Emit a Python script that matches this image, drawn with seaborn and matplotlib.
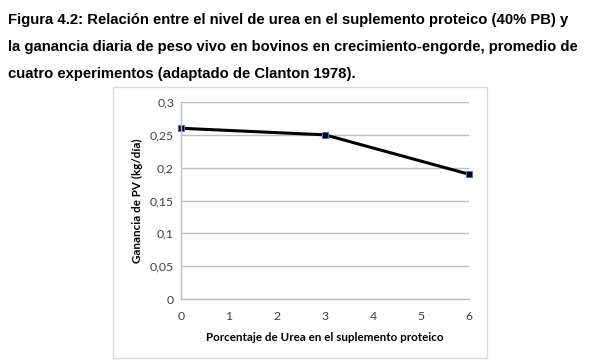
import pandas as pd
import matplotlib.pyplot as plt
import seaborn as sns
from matplotlib.patches import Rectangle

# Data
urea_pct = [0, 3, 6]
ganancia = [0.26, 0.25, 0.19]
y_ticks = [0, 0.05, 0.1, 0.15, 0.2, 0.25, 0.3]
y_labels = ['0', '0,05', '0,1', '0,15', '0,2', '0,25', '0,3']
x_ticks = [0, 1, 2, 3, 4, 5, 6]

df = pd.DataFrame({'urea': urea_pct, 'ganancia': ganancia})

sns.set_style('white')
plt.rcParams['font.family'] = ['Lato', 'DejaVu Sans']

fig = plt.figure(figsize=(6, 3.63), dpi=100)

# Caption above the chart
title_lines = [
    'Figura 4.2: Relación entre el nivel de urea en el suplemento proteico (40% PB) y',
    'la ganancia diaria de peso vivo en bovinos en crecimiento-engorde, promedio de',
    'cuatro experimentos (adaptado de Clanton 1978).',
]
for i, line in enumerate(title_lines):
    fig.text(0.013, 1 - (20 + 27 * i) / 363, line, fontsize=10.7, fontweight='bold',
             family=['Liberation Sans', 'DejaVu Sans'],
             va='center', ha='left', color='black')

# Chart frame
fig.patches.append(Rectangle((113 / 600, 1 - 358 / 363), 374 / 600, 271 / 363,
                             transform=fig.transFigure, fill=False,
                             edgecolor='#d9d9d9', linewidth=1))

ax = fig.add_axes([181 / 600, 1 - 299 / 363, 288 / 600, 197 / 363])
sns.lineplot(data=df, x='urea', y='ganancia', ax=ax, color='black', linewidth=2.2,
             marker='s', markersize=5, markerfacecolor='black',
             markeredgecolor='#4472c4', markeredgewidth=0.8, clip_on=False)

ax.set_xlim(0, 6)
ax.set_ylim(0, 0.3)
ax.set_xticks(x_ticks)
ax.set_yticks(y_ticks)
ax.set_yticklabels(y_labels)
ax.grid(axis='y', color='#bfbfbf', linewidth=1)
ax.set_axisbelow(True)
for s in ['top', 'right']:
    ax.spines[s].set_visible(False)
for s in ['left', 'bottom']:
    ax.spines[s].set_color('#bfbfbf')
    ax.spines[s].set_linewidth(1)
ax.tick_params(axis='both', length=0, labelsize=8.8, colors='#404040', pad=5)
ax.tick_params(axis='x', pad=9)
ax.set_xlabel('Porcentaje de Urea en el suplemento proteico', fontsize=8.4,
              fontweight='bold', color='black', labelpad=7)
ax.set_ylabel('Ganancia de PV (kg/día)', fontsize=8.4, fontweight='bold',
              color='black', labelpad=5)

fig.savefig('out.png', dpi=100)
